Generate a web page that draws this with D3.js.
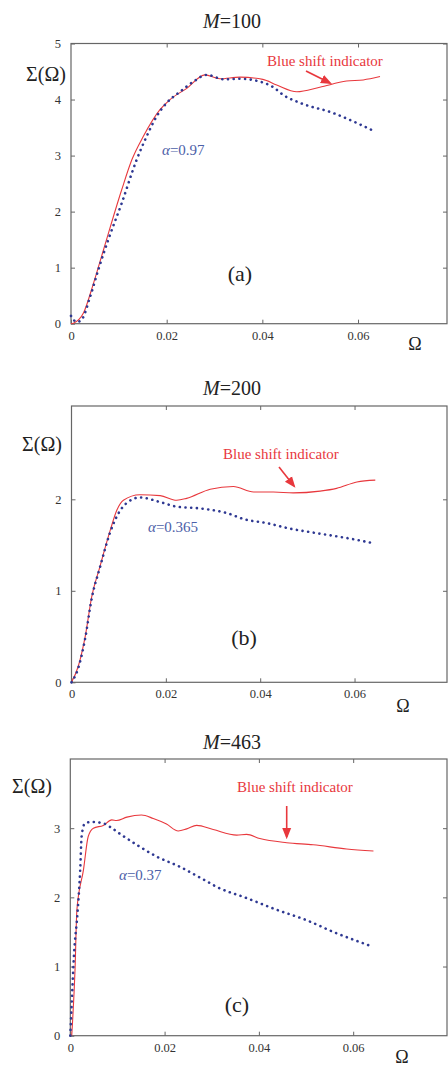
<!DOCTYPE html>
<html>
<head>
<meta charset="utf-8">
<script src="https://cdn.jsdelivr.net/npm/d3@7"></script>
<style>
body { margin: 0; background: #fff; }
svg text { font-family: "Liberation Serif", "Times New Roman", Tinos, serif; }
</style>
</head>
<body>
<script>
const width = 448
const height = 1068
const svg = d3.select('body').append('svg')
  .attr('width', width)
  .attr('height', height)

// ---- data ----
const xTicks = [0, 0.02, 0.04, 0.06]

// (a) M=100, alpha=0.97
const redA = [[0,0],[0.0005,0.01],[0.0026,0.19],[0.0047,0.72],[0.0068,1.32],[0.0106,2.39],[0.0127,2.92],
  [0.0151,3.34],[0.0186,3.82],[0.0207,4.0],[0.0242,4.2],[0.028,4.44],[0.0311,4.37],
  [0.0353,4.40],[0.0401,4.36],[0.043,4.26],[0.0472,4.14],[0.052,4.22],[0.0576,4.33],[0.0611,4.35],[0.0646,4.41]]
const blueA = [[0,0.14],[0.0012,0.03],[0.0022,0.07],[0.004,0.48],[0.0057,0.96],[0.0078,1.5],[0.0106,2.15],
  [0.0137,2.92],[0.0158,3.34],[0.0179,3.70],[0.02,3.94],[0.0228,4.14],[0.0256,4.32],[0.0284,4.44],[0.032,4.36],
  [0.0353,4.37],[0.0395,4.32],[0.0423,4.22],[0.0444,4.08],[0.0479,3.94],[0.0548,3.76],[0.059,3.61],[0.0635,3.43]]

// (b) M=200, alpha=0.365
const redB = [[0,0],[0.0014,0.17],[0.0029,0.5],[0.0043,0.94],[0.006,1.26],[0.0082,1.66],[0.0096,1.88],
  [0.011,1.99],[0.0145,2.05],[0.0188,2.04],[0.0223,1.99],[0.0244,2.01],[0.0294,2.11],[0.0343,2.14],
  [0.0386,2.08],[0.0428,2.08],[0.047,2.07],[0.0527,2.09],[0.0562,2.12],[0.0605,2.19],[0.0644,2.21]]
const blueB = [[0,0],[0.0014,0.15],[0.0029,0.48],[0.0043,0.92],[0.006,1.25],[0.0082,1.64],[0.0092,1.77],
  [0.0117,1.96],[0.0145,2.02],[0.0188,1.97],[0.0223,1.92],[0.0273,1.90],[0.0329,1.85],[0.0368,1.78],
  [0.0414,1.74],[0.0463,1.68],[0.052,1.63],[0.0591,1.57],[0.064,1.52]]

// (c) M=463, alpha=0.37
const redC = [[0.0003,0],[0.001,0.95],[0.0014,1.82],[0.0028,2.40],[0.0038,2.88],[0.0049,3.0],[0.007,3.04],
  [0.0088,3.12],[0.0098,3.11],[0.012,3.16],[0.0151,3.19],[0.0176,3.14],[0.0204,3.06],[0.0229,2.96],
  [0.0247,2.99],[0.0268,3.04],[0.0303,2.98],[0.0353,2.90],[0.0374,2.91],[0.0402,2.85],[0.0459,2.79],
  [0.0515,2.76],[0.0586,2.70],[0.0643,2.67]]
const blueC = [[0,0],[0.0003,0.47],[0.0008,1.19],[0.0015,1.75],[0.0021,2.40],[0.0024,2.88],[0.0031,3.07],
  [0.0045,3.09],[0.007,3.07],[0.0084,3.02],[0.0105,2.92],[0.0148,2.73],[0.0183,2.59],[0.0233,2.44],[0.0282,2.26],
  [0.0311,2.15],[0.0374,1.99],[0.0438,1.82],[0.0501,1.67],[0.0558,1.50],[0.0632,1.31]]

const titles = ['100', '200', '463']
const alphas = ['0.97', '0.365', '0.37']
const letters = ['(a)', '(b)', '(c)']
const yTicksList = [[0,1,2,3,4,5], [0,1,2], [0,1,2,3]]
const yMax = [5, 3.02, 4]
const xMax = [0.0786, 0.0796, 0.0799]

// ---- layout ----
const panels = [
  { left: 71, top: 43.5, bottom: 323.7, red: redA, blue: blueA,
    titleY: 28, sigma: [46, 81], note: [267, 66], arrow: [[306, 71], [330, 83]],
    alpha: [162, 155], letter: [240, 281], omega: [415, 350] },
  { left: 71.5, top: 406, bottom: 682.3, red: redB, blue: blueB,
    titleY: 395, sigma: [42, 451], note: [223, 459], arrow: [[279, 467], [294, 486]],
    alpha: [148, 532], letter: [244, 645], omega: [403, 712] },
  { left: 70.3, top: 759, bottom: 1035.7, red: redC, blue: blueC,
    titleY: 749, sigma: [32, 793], note: [237, 792], arrow: [[286.7, 806], [286.7, 837]],
    alpha: [119, 880], letter: [237, 1012], omega: [402, 1063] }
]
const right = 447
const serif = '"Liberation Serif", "Times New Roman", Tinos, serif'

const redColor = '#e8383d'
const blueColor = '#2e3892'
const axisColor = '#666'

const defs = svg.append('defs')
defs.append('marker')
  .attr('id', 'head')
  .attr('viewBox', '0 0 10 10')
  .attr('refX', 8).attr('refY', 5)
  .attr('markerWidth', 7).attr('markerHeight', 7)
  .attr('orient', 'auto')
  .append('path')
  .attr('d', 'M0,1 L10,5 L0,9 Z')
  .attr('fill', redColor)

panels.forEach((p, i) => {
  const x = d3.scaleLinear().domain([0, xMax[i]]).range([p.left, right])
  const y = d3.scaleLinear().domain([0, yMax[i]]).range([p.bottom, p.top])
  const g = svg.append('g').attr('font-family', serif)

  // frame
  g.append('rect')
    .attr('x', p.left).attr('y', p.top)
    .attr('width', right - p.left).attr('height', p.bottom - p.top)
    .attr('fill', 'none').attr('stroke', axisColor).attr('stroke-width', 1.2)

  const fmt = d => d === 0 ? '0' : d.toFixed(2)
  const xb = g.append('g').attr('transform', `translate(0,${p.bottom})`)
    .call(d3.axisBottom(x).tickValues(xTicks).tickFormat(fmt).tickSizeInner(-4).tickSizeOuter(0).tickPadding(7))
  const xt = g.append('g').attr('transform', `translate(0,${p.top})`)
    .call(d3.axisTop(x).tickValues(xTicks.slice(1)).tickFormat('').tickSizeInner(-4).tickSizeOuter(0))
  const yl = g.append('g').attr('transform', `translate(${p.left},0)`)
    .call(d3.axisLeft(y).tickValues(yTicksList[i]).tickFormat(d3.format('d')).tickSizeInner(-4).tickSizeOuter(0).tickPadding(10))
  const yr = g.append('g').attr('transform', `translate(${right},0)`)
    .call(d3.axisRight(y).tickValues(yTicksList[i].slice(1)).tickFormat('').tickSizeInner(-4).tickSizeOuter(0))
  ;[xb, xt, yl, yr].forEach(a => {
    a.attr('font-family', serif)
    a.select('.domain').remove()
    a.selectAll('line').attr('stroke', axisColor)
    a.selectAll('text').style('font-family', serif).attr('font-size', 12.5).attr('fill', '#333')
  })

  const line = d3.line().x(d => x(d[0])).y(d => y(d[1])).curve(d3.curveMonotoneX)

  g.append('path')
    .attr('d', line(p.red))
    .attr('fill', 'none').attr('stroke', redColor).attr('stroke-width', 1.1)

  g.append('path')
    .attr('d', line(p.blue))
    .attr('fill', 'none').attr('stroke', blueColor).attr('stroke-width', 2.6)
    .attr('stroke-linecap', 'round').attr('stroke-dasharray', '0.1 5.6')

  // title
  const t = g.append('text').attr('x', 232).attr('y', p.titleY)
    .attr('text-anchor', 'middle').attr('font-size', 20).attr('fill', '#222')
  t.append('tspan').attr('font-style', 'italic').text('M')
  t.append('tspan').text('=' + titles[i])

  g.append('text').attr('x', p.sigma[0]).attr('y', p.sigma[1])
    .attr('text-anchor', 'middle').attr('font-size', 20).attr('fill', '#222')
    .text('Σ(Ω)')

  g.append('text').attr('x', p.omega[0]).attr('y', p.omega[1])
    .attr('text-anchor', 'middle').attr('font-size', 18).attr('fill', '#222')
    .text('Ω')

  g.append('text').attr('x', p.note[0]).attr('y', p.note[1])
    .attr('font-size', 15).attr('fill', redColor)
    .text('Blue shift indicator')

  g.append('line')
    .attr('x1', p.arrow[0][0]).attr('y1', p.arrow[0][1])
    .attr('x2', p.arrow[1][0]).attr('y2', p.arrow[1][1])
    .attr('stroke', redColor).attr('stroke-width', 1.6)
    .attr('marker-end', 'url(#head)')

  const a = g.append('text').attr('x', p.alpha[0]).attr('y', p.alpha[1])
    .attr('font-size', 15).attr('fill', '#4c60a8')
  a.append('tspan').attr('font-style', 'italic').text('α')
  a.append('tspan').text('=' + alphas[i])

  g.append('text').attr('x', p.letter[0]).attr('y', p.letter[1])
    .attr('text-anchor', 'middle').attr('font-size', 22).attr('fill', '#222')
    .text(letters[i])
})
</script>
</body>
</html>
